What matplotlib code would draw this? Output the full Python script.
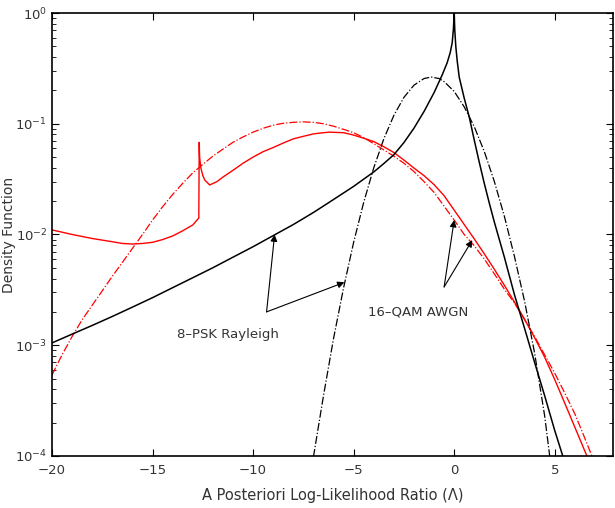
import numpy as np
import matplotlib
matplotlib.use("Agg")
import matplotlib.pyplot as plt

# ---- dados ----
# 8-PSK Rayleigh, simulado (preto continuo)
psk_x = [-20, -19, -18, -17, -16, -15, -14, -13, -12, -11, -10, -9, -8, -7, -6, -5,
         -4.5, -4, -3.5, -3, -2.5, -2, -1.5, -1, -0.6, -0.35, -0.2, -0.1, -0.04, 0,
         0.03, 0.08, 0.15, 0.25, 0.5, 0.75, 1.0, 1.25, 1.5, 1.75, 2.0, 2.5, 3.0, 3.5,
         4.0, 4.5, 5.0, 5.4]
psk_y = [1.05e-3, 1.26e-3, 1.51e-3, 1.82e-3, 2.21e-3, 2.69e-3, 3.31e-3, 4.07e-3,
         5.01e-3, 6.24e-3, 7.76e-3, 9.77e-3, 0.0123, 0.0158, 0.0207, 0.0272,
         0.0316, 0.0367, 0.0437, 0.0525, 0.0676, 0.0912, 0.129, 0.191, 0.275, 0.355,
         0.437, 0.537, 0.708, 1.0,
         0.7, 0.5, 0.37, 0.264, 0.17, 0.115, 0.071, 0.0447, 0.0288, 0.0191, 0.0129,
         6.2e-3, 2.85e-3, 1.42e-3, 7.0e-4, 3.5e-4, 1.7e-4, 1.0e-4]

# 16-QAM AWGN, gaussiana (preto traco-ponto)
qam_x = [-7.0, -6.5, -6.0, -5.5, -5.0, -4.5, -4.0, -3.5, -3.0, -2.5, -2.0, -1.5, -1.14,
         -0.75, -0.5, 0.0, 0.5, 1.0, 1.5, 2.0, 2.5, 3.0, 3.5, 4.0, 4.5, 4.75]
qam_y = [9.8e-5, 3.5e-4, 1.15e-3, 3.3e-3, 8.5e-3, 0.0195, 0.040, 0.073, 0.119, 0.173,
         0.223, 0.256, 0.264, 0.256, 0.240, 0.196, 0.142, 0.094, 0.056, 0.030, 0.0145,
         6.3e-3, 2.5e-3, 8.5e-4, 2.3e-4, 1.0e-4]

# curva vermelha continua
red_x = [-20, -19, -18, -17, -16.5, -16, -15.5, -15, -14.5, -14, -13.5, -13, -12.7,
         -12.68, -12.66, -12.6, -12.5, -12.4, -12.16, -11.8, -11.5, -11, -10.5, -10,
         -9.5, -9, -8.5, -8, -7.5, -7, -6.5, -6.2, -5.5, -5, -4.5, -4, -3.5, -3, -2.5,
         -2, -1.5, -1, -0.5, 0, 0.5, 1, 1.5, 2, 2.5, 3, 3.5, 4, 4.5, 5, 5.5, 6, 6.6]
red_y = [0.0110, 0.0100, 0.0092, 0.0086, 0.0083, 0.0082, 0.0083, 0.0085, 0.0090,
         0.0097, 0.0108, 0.0122, 0.0141,
         0.068, 0.050, 0.040, 0.034, 0.031, 0.028, 0.030, 0.033, 0.038, 0.044, 0.050,
         0.056, 0.061, 0.067, 0.073, 0.077, 0.081, 0.083, 0.084, 0.083, 0.079, 0.074,
         0.069, 0.062, 0.055, 0.047, 0.0398, 0.0340, 0.0282, 0.0224, 0.0166, 0.0123,
         0.00912, 0.00668, 0.00484, 0.00347, 0.00245, 1.72e-3, 1.17e-3, 7.8e-4,
         4.9e-4, 3.0e-4, 1.82e-4, 1.0e-4]

# curva vermelha traco-ponto
redd_x = [-20, -19.5, -19, -18.5, -18, -17.5, -17, -16.5, -16, -15.5, -15, -14.5, -14,
          -13.5, -13, -12.5, -12, -11.5, -11, -10.5, -10, -9.5, -9, -8.5, -8, -7.5,
          -7, -6.5, -6, -5.5, -5, -4.5, -4, -3.5, -3, -2.5, -2, -1.5, -1, -0.5, 0,
          0.5, 1, 1.5, 2, 2.5, 3, 3.5, 4, 4.5, 5, 5.5, 6, 6.4, 6.85]
redd_y = [5.4e-4, 8.2e-4, 1.2e-3, 1.7e-3, 2.3e-3, 3.1e-3, 4.2e-3, 5.6e-3, 7.5e-3,
          0.0100, 0.0135, 0.0178, 0.023, 0.029, 0.036, 0.043, 0.051, 0.059, 0.068,
          0.076, 0.084, 0.091, 0.097, 0.101, 0.103, 0.104, 0.103, 0.100, 0.095,
          0.089, 0.083, 0.075, 0.066, 0.058, 0.051, 0.044, 0.037, 0.030, 0.024,
          0.018, 0.0135, 0.0100, 0.0079, 0.0060, 0.0044, 0.0032, 0.0024, 1.7e-3,
          1.2e-3, 8.2e-4, 5.6e-4, 3.7e-4, 2.4e-4, 1.6e-4, 1.0e-4]

cor_txt = '#333333'

fig = plt.figure(figsize=(6.15, 5.08), dpi=100)
ax = fig.add_axes([0.0846, 0.1024, 0.9122, 0.872])

ax.plot(red_x, red_y, color='red', lw=1.0)
ax.plot(redd_x, redd_y, color='red', lw=0.9, ls='-.')
ax.plot(psk_x, psk_y, color='black', lw=1.1)
ax.plot(qam_x, qam_y, color='black', lw=0.9, ls='-.')

ax.set_yscale('log')
ax.set_xlim(-20, 7.9)
ax.set_ylim(1e-4, 1)
ax.set_xticks([-20, -15, -10, -5, 0, 5])
ax.set_xticklabels(['\u221220', '\u221215', '\u221210', '\u22125', '0', '5'])

ax.tick_params(which='both', direction='in', top=True, right=True,
               labelsize=9.5, labelcolor=cor_txt)
ax.tick_params(axis='x', pad=6)
ax.tick_params(which='major', length=5)
ax.tick_params(which='minor', length=3)
for s in ax.spines.values():
    s.set_linewidth(1.2)

ax.set_xlabel('A Posteriori Log-Likelihood Ratio (\u039b)', fontsize=10.5, color=cor_txt,
              labelpad=8)
ax.set_ylabel('Density Function', fontsize=10, color=cor_txt)
ax.yaxis.set_label_coords(-0.064, 0.5)

# anotacoes com setas
seta = dict(arrowstyle='-|>', color='black', lw=0.8, mutation_scale=10, shrinkA=0, shrinkB=0)
ax.annotate('', xy=(-8.93, 0.0100), xytext=(-9.33, 2.0e-3), arrowprops=seta)
ax.annotate('', xy=(-5.46, 3.7e-3), xytext=(-9.33, 2.0e-3), arrowprops=seta)
ax.text(-13.8, 1.24e-3, '8\u2013PSK Rayleigh', fontsize=9.5, color=cor_txt, va='center')

ax.annotate('', xy=(0.0, 0.0135), xytext=(-0.5, 3.36e-3), arrowprops=seta)
ax.annotate('', xy=(0.9, 8.9e-3), xytext=(-0.5, 3.36e-3), arrowprops=seta)
ax.text(-4.3, 2.0e-3, '16\u2013QAM AWGN', fontsize=9.5, color=cor_txt, va='center')

fig.savefig('out.png', dpi=100)
